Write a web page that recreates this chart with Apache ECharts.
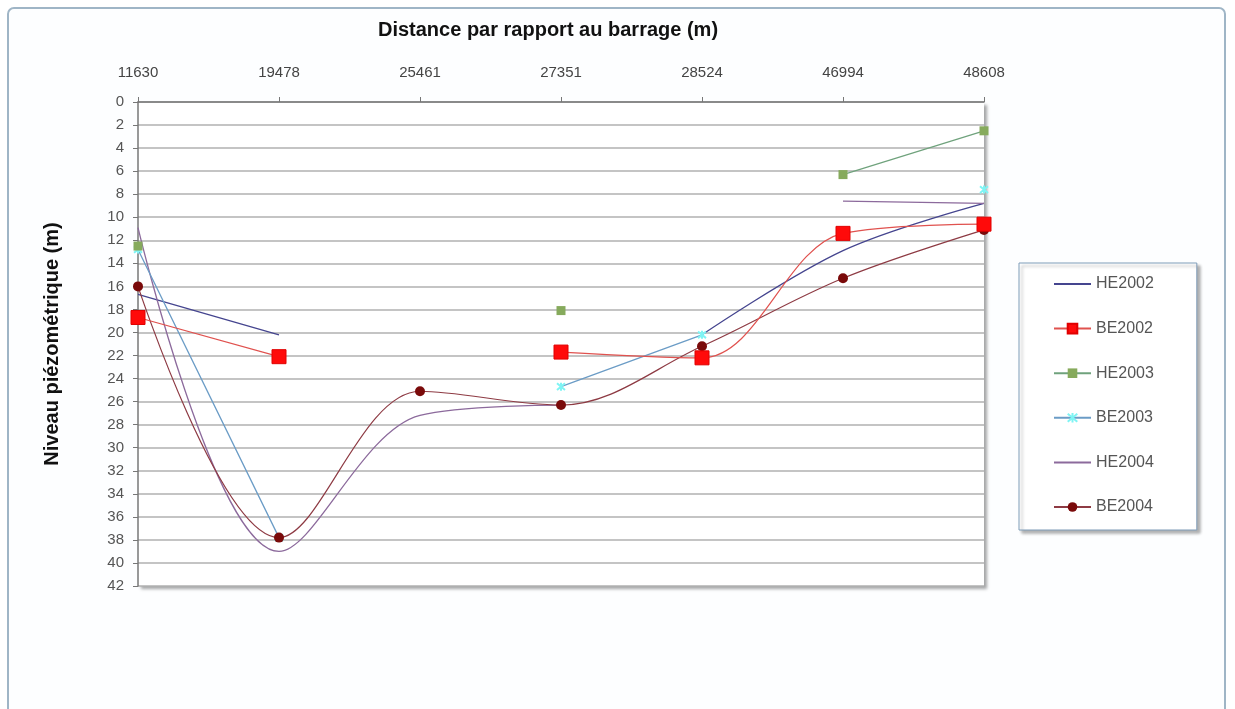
<!DOCTYPE html>
<html>
<head>
<meta charset="utf-8">
<script src="https://cdn.jsdelivr.net/npm/echarts@6/dist/echarts.min.js"></script>
<style>
  html, body { margin: 0; padding: 0; background: #ffffff; }
  #chart { width: 1235px; height: 709px; }
</style>
</head>
<body>
<div id="chart"></div>
<script>
// Distances from the dam (m), shown as categories along the top axis
const distances = ['11630', '19478', '25461', '27351', '28524', '46994', '48608'];

// Piezometric level (m) per campaign; null where no reading exists
const he2002 = [16.7, 20.2, null, null, 20.2, 12.9, 8.8];
const be2002 = [18.7, 22.1, null, 21.7, 22.2, 11.4, 10.6];
const he2003 = [12.5, null, null, 18.1, null, 6.3, 2.5];
const be2003 = [12.8, 37.8, null, 24.7, 20.2, null, 7.6];
const he2004 = [10.9, 39.0, 27.2, 26.3, null, 8.6, 8.8];
const be2004 = [16.0, 37.8, 25.1, 26.3, 21.2, 15.3, 11.1];

const seriesNames = ['HE2002', 'BE2002', 'HE2003', 'BE2003', 'HE2004', 'BE2004'];
// Campaigns drawn as plain lines (no point markers)
const lineOnly = ['HE2002', 'HE2004'];

const font = 'Liberation Sans, Arial, sans-serif';
const smoothness = 0.35;

const chart = echarts.init(document.getElementById('chart'), null, { renderer: 'canvas' });

const asterisk = 'path://M0,0L10,10M10,0L0,10M5,-1L5,11';

chart.setOption({
  animation: false,
  backgroundColor: '#ffffff',
  graphic: [{
    type: 'rect',
    z: -10,
    shape: { x: 8, y: 8, width: 1217, height: 720, r: 6 },
    style: { fill: '#fdfeff', stroke: '#9fb5c6', lineWidth: 2 }
  }],
  title: {
    text: 'Distance par rapport au barrage (m)',
    left: 543,
    top: 15,
    textAlign: 'center',
    textStyle: { fontFamily: font, fontSize: 20, fontWeight: 'bold', color: '#111' }
  },
  grid: {
    left: 138, top: 102, right: 251, bottom: 123,
    show: true,
    backgroundColor: '#ffffff',
    borderWidth: 0,
    shadowColor: 'rgba(0,0,0,0.35)',
    shadowBlur: 3,
    shadowOffsetX: 3,
    shadowOffsetY: 3
  },
  legend: {
    orient: 'vertical',
    left: 1019,
    top: 263,
    padding: [13, 43, 15, 34],
    itemGap: 28.6,
    itemWidth: 37,
    itemHeight: 12,
    backgroundColor: '#ffffff',
    borderColor: '#7f9db9',
    borderWidth: 1,
    shadowColor: 'rgba(0,0,0,0.3)',
    shadowBlur: 3,
    shadowOffsetX: 3,
    shadowOffsetY: 3,
    textStyle: { fontFamily: font, fontSize: 16, color: '#555' },
    data: seriesNames.map(function (n) {
      return lineOnly.indexOf(n) >= 0 ? { name: n, itemStyle: { opacity: 0 } } : { name: n };
    })
  },
  xAxis: {
    type: 'category',
    position: 'top',
    data: distances,
    boundaryGap: false,
    axisLine: { lineStyle: { color: '#777', width: 1.5 } },
    axisTick: { show: true, length: 5, lineStyle: { color: '#777' } },
    axisLabel: { margin: 22, fontFamily: font, fontSize: 15, color: '#444' },
    splitLine: { show: false }
  },
  yAxis: {
    type: 'value',
    inverse: true,
    min: 0,
    max: 42,
    interval: 2,
    name: 'Niveau piézométrique (m)',
    nameLocation: 'middle',
    nameGap: 76,
    nameTextStyle: { fontFamily: font, fontSize: 20, fontWeight: 'bold', color: '#111' },
    axisLine: { show: true, lineStyle: { color: '#777', width: 1.5 } },
    axisTick: { show: true, length: 5, lineStyle: { color: '#777' } },
    axisLabel: { margin: 14, fontFamily: font, fontSize: 15, color: '#555' },
    splitLine: { show: true, lineStyle: { color: '#b0b0b0', width: 1.6 } }
  },
  series: [
    {
      name: 'HE2002', type: 'line', data: he2002, smooth: smoothness,
      symbol: 'none', z: 2,
      lineStyle: { color: '#45458f', width: 1.3 },
      itemStyle: { color: '#45458f' }
    },
    {
      name: 'BE2002', type: 'line', data: be2002, smooth: smoothness,
      symbol: 'rect', symbolSize: 14, z: 5,
      lineStyle: { color: '#e0524f', width: 1.2 },
      itemStyle: { color: '#ff0a0a', borderColor: '#e00000', borderWidth: 1 }
    },
    {
      name: 'HE2003', type: 'line', data: he2003, smooth: smoothness,
      symbol: 'rect', symbolSize: 9, z: 4,
      lineStyle: { color: '#6fa27c', width: 1.2 },
      itemStyle: { color: '#86aa5c' }
    },
    {
      name: 'BE2003', type: 'line', data: be2003, smooth: smoothness,
      symbol: asterisk, symbolSize: 8, z: 3,
      lineStyle: { color: '#6b9cc6', width: 1.3 },
      itemStyle: { color: '#7ff4f4', borderColor: '#7ff4f4', borderWidth: 2 }
    },
    {
      name: 'HE2004', type: 'line', data: he2004, smooth: smoothness,
      symbol: 'none', z: 2,
      lineStyle: { color: '#8c6a9c', width: 1.3 },
      itemStyle: { color: '#8c6a9c' }
    },
    {
      name: 'BE2004', type: 'line', data: be2004, smooth: smoothness,
      symbol: 'circle', symbolSize: 10, z: 4,
      lineStyle: { color: '#8e3b44', width: 1.2 },
      itemStyle: { color: '#7a0a0a' }
    }
  ]
});
</script>
</body>
</html>
